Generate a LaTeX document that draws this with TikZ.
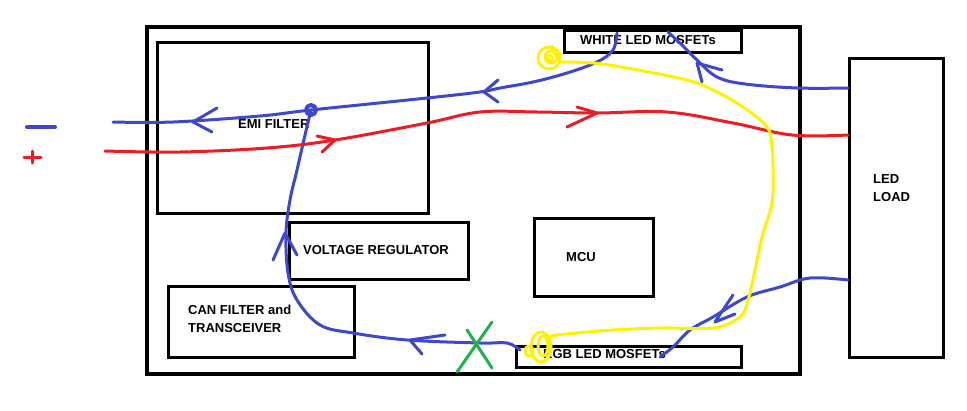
\documentclass[tikz,border=0pt]{standalone}
\usepackage{fontspec}
\setmainfont{Liberation Sans}
\usetikzlibrary{positioning}
\definecolor{pblue}{HTML}{3F48CC}
\definecolor{pred}{HTML}{ED1C24}
\definecolor{pyellow}{HTML}{FFF200}
\definecolor{pgreen}{HTML}{22B14C}
\tikzset{
  box/.style={draw=black, line width=3pt, inner sep=0pt, anchor=north west},
  lbl/.style={inner sep=0pt, anchor=west, font=\fontsize{13}{18}\selectfont\bfseries},
  negwire/.style={draw=pblue, line width=3pt, line cap=round, line join=round},
  poswire/.style={draw=pred, line width=3pt, line cap=round, line join=round},
  ctlwire/.style={draw=pyellow, line width=3pt, line cap=round, line join=round},
  cutmark/.style={draw=pgreen, line width=3pt, line cap=round},
}
\begin{document}
\begin{tikzpicture}[x=1pt, y=-1pt]
  \useasboundingbox (0,0) rectangle (967,410);
  % blocks
  \node[box, line width=4pt, minimum width=653, minimum height=347] (case) at (145,25) {};
  \node[box, minimum width=271, minimum height=171] (emi) at (156,41) {};
  \node[box, minimum width=177, minimum height=22] (white) at (563,29) {};
  \node[box, minimum width=179, minimum height=57] (vreg) at (288,221) {};
  \node[box, minimum width=119, minimum height=78] (mcu) at (533,217) {};
  \node[box, minimum width=186, minimum height=71] (can) at (167,285) {};
  \node[box, minimum width=225, minimum height=21] (rgb) at (515,345) {};
  \node[box, minimum width=94, minimum height=299] (load) at (848,57) {};
  % labels
  \node[lbl] (emit) at (238,124) {EMI FILTER};
  \node[lbl] (whitet) at (580,40) {WHITE LED MOSFETs};
  \node[lbl] (vregt) at (303,250) {VOLTAGE REGULATOR};
  \node[lbl] (mcut) at (566,257) {MCU};
  \node[lbl, align=left] (cant) at (188,319) {CAN FILTER and\\TRANSCEIVER};
  \node[lbl] (rgbt) at (543,354) {RGB LED MOSFETs};
  \node[lbl, align=left] (loadt) at (873,188) {LED\\LOAD};
  % wire ends
  \coordinate (negin) at (113,122);
  \coordinate (posin) at (105,151);
  \coordinate (emij) at (311,110);
  \coordinate (loadn1) at (848,88);
  \coordinate (loadp) at (848,135);
  \coordinate (loadn2) at (848,280);
  \coordinate (whitea) at (668,32);
  \coordinate (whiteb) at (617,33);
  \coordinate (rgba) at (520,350);
  \coordinate (rgbb) at (660,357);
  \coordinate (wspin) at (549,58);
  \coordinate (rspin) at (541,347);
  % supply marks
  \draw[negwire, line width=4pt] (27,127) -- (55,127);
  \draw[poswire] (24,157) -- (41,157) (32,151) -- (32,163);
  % negative wires
  \draw[negwire] plot[smooth, tension=0.6] coordinates {(loadn1) (797,88) (745,84) (717,77) (697,60) (682,45) (whitea)};
  \draw[negwire] (697,63) -- (722,70) (697,63) -- (702,82);
  \draw[negwire] plot[smooth, tension=0.6] coordinates {(whiteb) (613,50) (597,62) (567,73) (533,82) (500,88) (480,92) (427,98) (emij) (260,116) (173,122) (negin)};
  \draw[negwire] (484,92) -- (498,80) (484,92) -- (498,102);
  \draw[negwire] (193,122) -- (217,108) (193,122) -- (212,132);
  \draw[negwire, line width=4pt] (emij) circle (5);
  \draw[negwire] plot[smooth, tension=0.6] coordinates {(emij) (305,135) (297,170) (290,200) (286,233) (288,273) (297,300) (320,325) (353,333) (407,340) (480,343) (507,343) (rgba)};
  \draw[negwire] (285,233) -- (273,260) (285,233) -- (297,255);
  \draw[negwire] (410,340) -- (445,335) (410,340) -- (422,354);
  \draw[negwire] plot[smooth, tension=0.6] coordinates {(loadn2) (810,278) (780,287) (747,297) (713,317) (690,330) (673,347) (rgbb)};
  \draw[negwire] (715,322) -- (733,295) (715,322) -- (735,314);
  % positive wire
  \draw[poswire] plot[smooth, tension=0.6] coordinates {(posin) (180,152) (267,148) (335,140) (427,123) (480,112) (537,112) (597,113) (667,112) (733,123) (792,135) (loadp)};
  \draw[poswire] (335,140) -- (317,136) (335,140) -- (322,152);
  \draw[poswire] (597,113) -- (577,107) (597,113) -- (567,127);
  % control line
  \draw[ctlwire] (wspin) circle (11) ++(2,-1) circle (6) ++(-1,1) circle (2.5);
  \draw[ctlwire] (552,46) -- (556,56);
  \draw[ctlwire] plot[smooth, tension=0.6] coordinates {(560,62) (593,63) (627,68) (687,80) (713,90) (743,107) (767,127) (772,147) (773,170) (772,203) (762,237) (755,270) (748,300) (740,317) (713,328) (663,328) (613,330) (557,335) (549,338)};
  \draw[ctlwire] (rspin) ellipse (10 and 15) ++(2,-1) ellipse (5 and 10) ++(-14,5) ellipse (4 and 5);
  % cut
  \draw[cutmark] (492,322) -- (457,372) (467,330) -- (492,368);
\end{tikzpicture}
\end{document}
